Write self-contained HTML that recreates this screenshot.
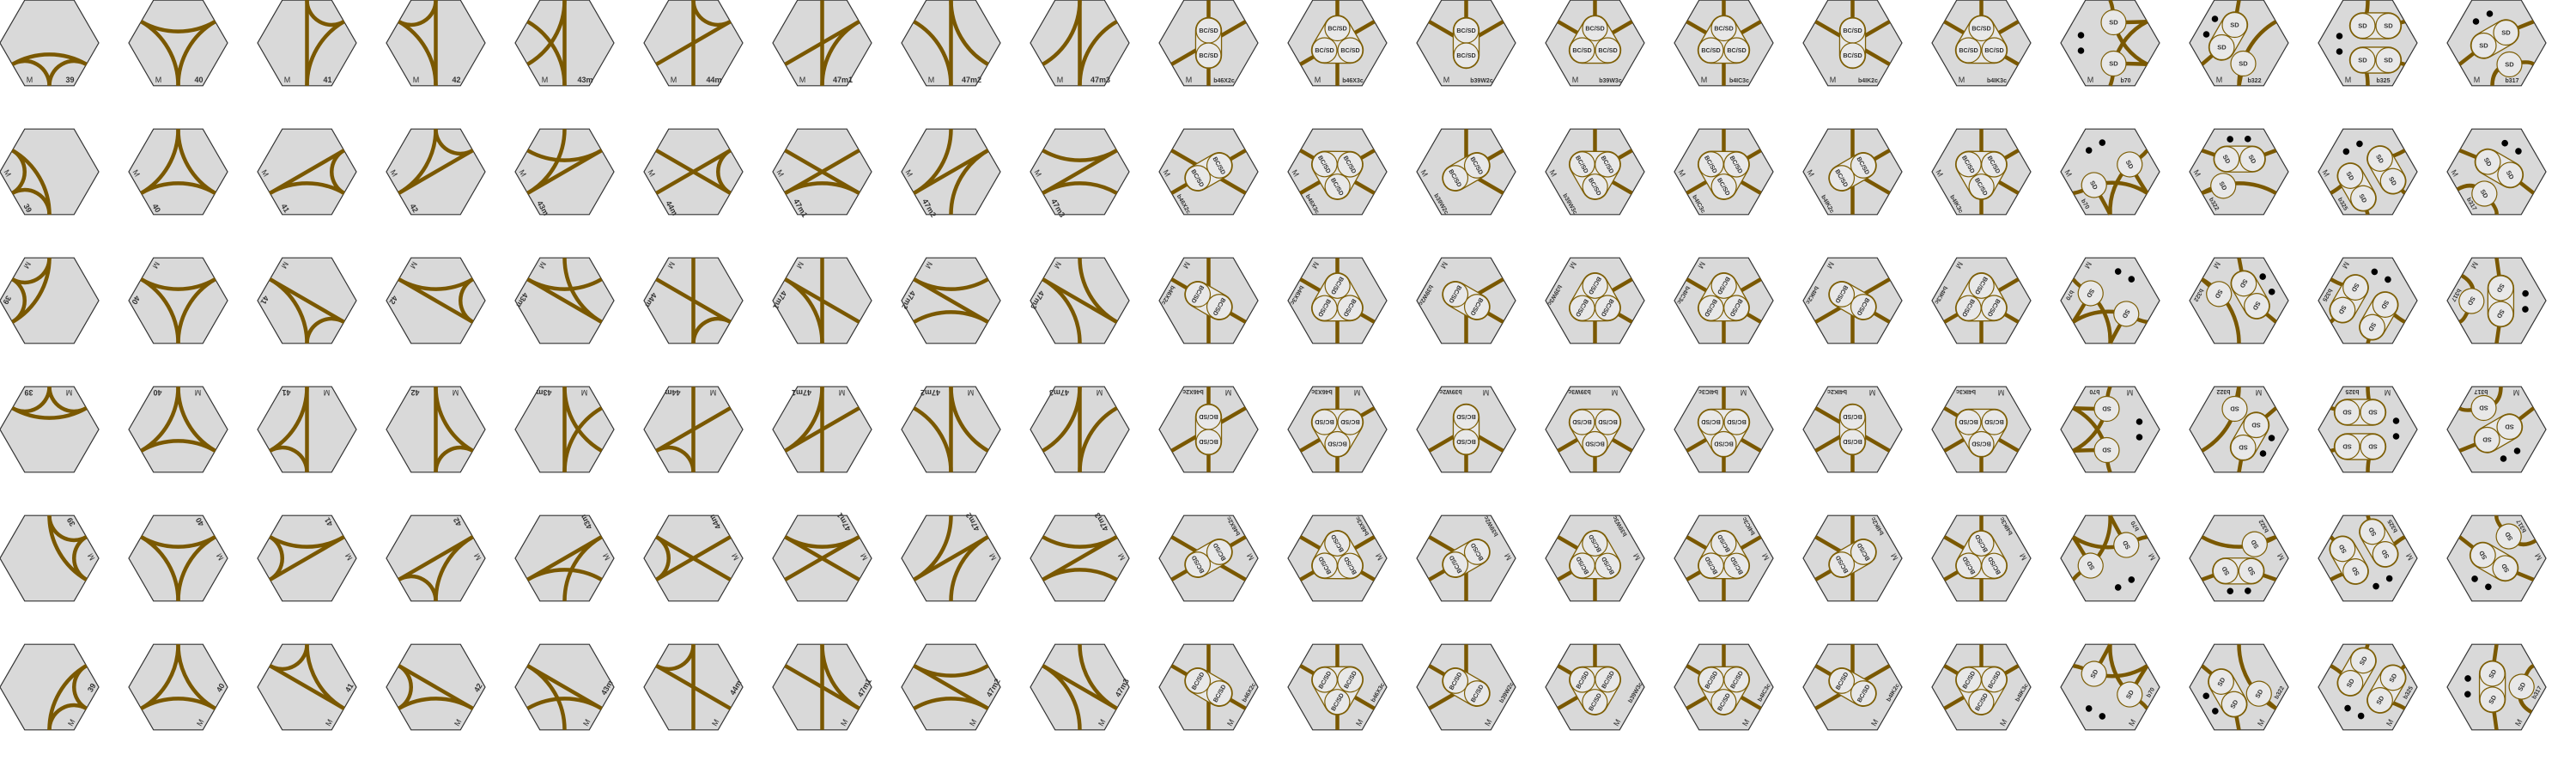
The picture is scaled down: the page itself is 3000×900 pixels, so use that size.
<!DOCTYPE html>
<html><head><meta charset="utf-8">
<style>
html,body{margin:0;padding:0;background:#fff;}
svg{display:block;}
text{font-family:"Liberation Sans",sans-serif;}
</style></head>
<body>
<svg id="sheet" width="3000" height="900" viewBox="0 0 3000 900" xmlns="http://www.w3.org/2000/svg"></svg>
<script>
// tile labels (one per column)
const tileLabels = ["39","40","41","42","43m","44m","47m1","47m2","47m3","b46X2c","b46X3c","b39W2c","b39W3c","b4IC3c","b4IK2c","b4IK3c","b70","b322","b325","b317"];
// rotation steps per row (x 60 degrees)
const rowRotations = [0,1,2,3,4,5];
// edge-to-edge track pairs for plain track tiles (edge 0=bottom, increasing clockwise)
const trackPairs = [
  [[0,1],[0,5],[1,5]],
  [[2,4],[0,2],[0,4]],
  [[0,3],[3,4],[0,4]],
  [[0,3],[3,2],[0,2]],
  [[0,3],[2,0],[1,3]],
  [[0,3],[1,4],[3,4]],
  [[0,3],[1,4],[0,4]],
  [[0,3],[2,0],[3,5]],
  [[0,3],[3,1],[0,4]]
];
// station tiles: layout kind and edges connected to the centre
const stationKinds = ["pair","tri","pair","tri","tri","pair","tri"];
const stationEdges = [[3,0,4,1],[3,0,4,1],[3,2,4],[3,2,4],[3,2,4,0],[3,2,4,5],[3,2,4,5]];

const S = 57.5, D = S*Math.sqrt(3)/2, PX = 150, PY = 150, X0 = 57.5, Y0 = 50;
const TRACK = "#7a5800", RING = "#7d5e05";
const NS = "http://www.w3.org/2000/svg";
const svg = document.getElementById('sheet');
function el(tag, attrs, parent){const e=document.createElementNS(NS,tag);for(const k in attrs)e.setAttribute(k,attrs[k]);parent.appendChild(e);return e;}
function ang(k){return (90+60*k)*Math.PI/180;}
function mid(k){return [D*Math.cos(ang(k)), D*Math.sin(ang(k))];}
function trackPath(a,b){
  const p=mid(a), q=mid(b);
  if((a-b+6)%6===3) return `M${p[0]} ${p[1]}L${q[0]} ${q[1]}`;
  const ta=[-Math.sin(ang(a)),Math.cos(ang(a))], tb=[-Math.sin(ang(b)),Math.cos(ang(b))];
  const det = ta[0]*(-tb[1]) - ta[1]*(-tb[0]);
  const dx=q[0]-p[0], dy=q[1]-p[1];
  const t = (dx*(-tb[1]) - dy*(-tb[0]))/det;
  const c=[p[0]+t*ta[0], p[1]+t*ta[1]];
  const r=Math.hypot(p[0]-c[0],p[1]-c[1]);
  const cr=(p[0]-c[0])*(q[1]-c[1])-(p[1]-c[1])*(q[0]-c[0]);
  return `M${p[0]} ${p[1]}A${r} ${r} 0 0 ${cr>0?1:0} ${q[0]} ${q[1]}`;
}
function track(g,d){const e=el('path',{d:d,fill:'none',stroke:TRACK,'stroke-width':4.5},g);

}
function city(g,cs,label,fs){
  if(cs.length>1){
    const pts=cs.map(c=>c[0]+','+c[1]).join(' ');
    const tag = cs.length===2?'polyline':'polygon';
    el(tag,{points:pts,fill:RING,stroke:RING,'stroke-width':2*cs[0][2]+2.4,'stroke-linejoin':'round','stroke-linecap':'round'},g);
    el(tag,{points:pts,fill:'#e8e8e8',stroke:'#e8e8e8','stroke-width':2*cs[0][2]-0.2,'stroke-linejoin':'round','stroke-linecap':'round'},g);
  }
  cs.forEach(c=>{
    const ci=el('circle',{cx:c[0],cy:c[1],r:c[2],fill:'#e8e8e8',stroke:RING,'stroke-width':1.2},g);
    
    
    const t=el('text',{x:c[0],y:c[1]+fs*0.36,'font-size':fs,'font-weight':'bold','text-anchor':'middle',fill:'#333'},g);
    t.textContent=label;
  });
}
function dot(g,x,y){const d=el('circle',{cx:x,cy:y,r:3.8,fill:'#000'},g);

}

const hexPts=[];for(let i=0;i<6;i++){const a=i*60*Math.PI/180;hexPts.push((S*Math.cos(a)).toFixed(2)+','+(S*Math.sin(a)).toFixed(2));}

rowRotations.forEach((rot,ri)=>{
  tileLabels.forEach((lab,ci)=>{
    const g=el('g',{transform:`translate(${X0+ci*PX},${Y0+ri*PY}) rotate(${rot*60})`},svg);
    
    
    el('polygon',{points:hexPts.join(' '),fill:'#d9d9d9',stroke:'#333','stroke-width':1.2},g);
    if(ci<9){
      trackPairs[ci].forEach(p=>track(g,trackPath(p[0],p[1])));
    } else if(ci<16){
      const k=ci-9;
      stationEdges[k].forEach(e=>{const m=mid(e);track(g,`M${m[0]} ${m[1]}L0 0`);});
      const cs = stationKinds[k]==='pair' ? [[0,-14.5,14.5],[0,14.5,14.5]] : [[0,-17,14.5],[-15,8.5,14.5],[15,8.5,14.5]];
      city(g,cs,'BC/SD',7.2);
    } else if(lab==='b70'){
      const m3=mid(3),m0=mid(0),m4=mid(4),m5=mid(5);
      track(g,`M${m3[0]} ${m3[1]}Q4 -40 4 -24`);
      track(g,`M${m0[0]} ${m0[1]}Q4 40 4 24`);
      track(g,`M4 -24Q30 -24 ${m4[0]} ${m4[1]}`);
      track(g,`M4 -24Q14 10 ${m5[0]} ${m5[1]}`);
      track(g,`M4 24Q14 -10 ${m4[0]} ${m4[1]}`);
      track(g,`M4 24Q30 24 ${m5[0]} ${m5[1]}`);
      dot(g,-34,-9);dot(g,-34,9);
      city(g,[[4,-24,14.5]],'SD',7.5);city(g,[[4,24,14.5]],'SD',7.5);
    } else if(lab==='b322'){
      const m3=mid(3),m1=mid(1),m0=mid(0);
      track(g,`M${m3[0]} ${m3[1]}L-5 -21`);
      track(g,`M${m1[0]} ${m1[1]}L-20 5`);
      track(g,`M${m0[0]} ${m0[1]}L5 24`);
      track(g,trackPath(0,4));
      dot(g,-28,-28);dot(g,-38,-10);
      city(g,[[-5,-21,14.5],[-20,5,14.5]],'SD',7.5);city(g,[[5,24,14.5]],'SD',7.5);
    } else if(lab==='b325'){
      const m3=mid(3),m0=mid(0),m4=mid(4),m5=mid(5);
      track(g,`M${m3[0]} ${m3[1]}Q0 -30 -7 -20`);
      track(g,`M${m0[0]} ${m0[1]}Q0 30 -7 20`);
      track(g,`M${m4[0]} ${m4[1]}L24 -20`);
      track(g,`M${m5[0]} ${m5[1]}L24 20`);
      dot(g,-33,-8);dot(g,-33,10);
      city(g,[[-6,-20,14.5],[24,-20,14.5]],'SD',7.5);city(g,[[-6,20,14.5],[24,20,14.5]],'SD',7.5);
    } else {
      const m4=mid(4),m1=mid(1),m0=mid(0),m5=mid(5);
      track(g,`M${m4[0]} ${m4[1]}L11 -12`);
      track(g,`M${m1[0]} ${m1[1]}L-15 3`);
      track(g,`M-5 ${D}Q-5 28 15 25`);
      track(g,`M${m5[0]} ${m5[1]}Q38 20 15 25`);
      dot(g,-24,-25);dot(g,-8,-34);
      city(g,[[11,-12,14.5],[-15,3,14.5]],'SD',7.5);city(g,[[15,25,14.5]],'SD',7.5);
    }
    const tm=el('text',{x:-23,y:46,'font-size':9,'text-anchor':'middle',fill:'#333'},g);
    tm.textContent='M';
    
    
    const tn=el('text',{x:ci<9?24:18,y:46,'font-size':ci<9?9:7,'font-weight':'bold','text-anchor':'middle',fill:'#333'},g);
    tn.textContent=lab;
    
    
  });
});
</script>
</body></html>
